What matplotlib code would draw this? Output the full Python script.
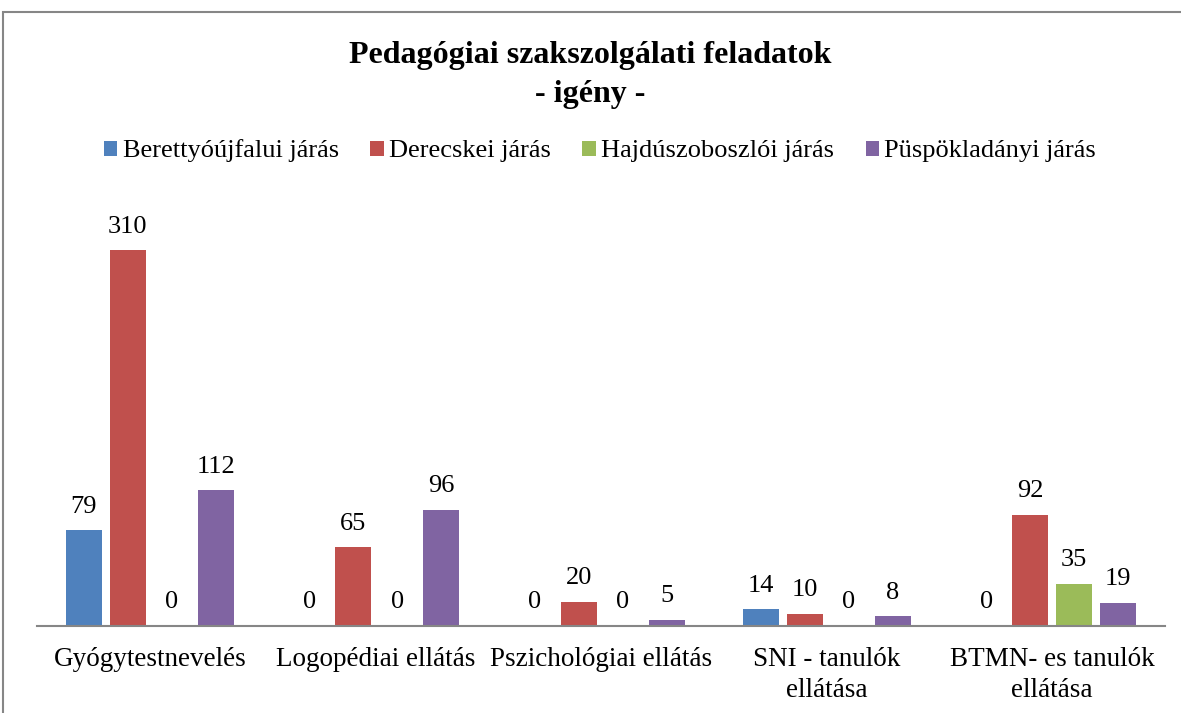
import numpy as np
import matplotlib.pyplot as plt
from matplotlib.patches import Rectangle

# adatok
categories = ['Gyógytestnevelés', 'Logopédiai ellátás', 'Pszichológiai ellátás',
              'SNI - tanulók\nellátása', 'BTMN- es tanulók\nellátása']
series_names = ['Berettyóújfalui járás', 'Derecskei járás',
                'Hajdúszoboszlói járás', 'Püspökladányi járás']
berettyo = [79, 0, 0, 14, 0]
derecske = [310, 65, 20, 10, 92]
hajdu = [0, 0, 0, 0, 35]
puspok = [112, 96, 5, 8, 19]
colors = ['#4F81BD', '#C0504D', '#9BBB59', '#8064A2']

plt.rcParams['font.family'] = ['Liberation Serif', 'DejaVu Serif']

fig = plt.figure(figsize=(11.81, 7.13), dpi=100)
ax = fig.add_axes([37 / 1181, 1 - 626 / 713, 1128 / 1181, 424 / 713])

x = np.arange(len(categories))
width = 0.16
step = 0.195
all_series = [berettyo, derecske, hajdu, puspok]
for i, (vals, name, c) in enumerate(zip(all_series, series_names, colors)):
    pos = x + (i - 1.5) * step
    bars = ax.bar(pos, vals, width, color=c, label=name)
    ax.bar_label(bars, padding=9, fontsize=19)

ax.set_xlim(-0.5, len(categories) - 0.5)
ax.set_ylim(0, 350)
ax.set_xticks(x)
ax.set_xticklabels(categories, fontsize=19.5, linespacing=1.3)
ax.tick_params(axis='x', length=0, pad=15)
ax.set_yticks([])
for s in ['top', 'right', 'left']:
    ax.spines[s].set_visible(False)
ax.spines['bottom'].set_color('#868686')
ax.spines['bottom'].set_linewidth(1.5)

fig.text(0.5, 1 - 75 / 713, 'Pedagógiai szakszolgálati feladatok\n- igény -',
         ha='center', va='center', fontsize=23, fontweight='bold', linespacing=1.45)

fig.legend(loc='center', bbox_to_anchor=(0.508, 1 - 151 / 713), ncol=4, frameon=False,
           fontsize=19, handlelength=0.5, handleheight=0.5, handletextpad=0.2,
           columnspacing=1.2)

# keret
fig.add_artist(Rectangle((3 / 1181, -0.1), 1.2, 1.1 - 12 / 713, transform=fig.transFigure,
                         fill=False, edgecolor='#868686', linewidth=1.5))

fig.savefig('out.png', dpi=100)
